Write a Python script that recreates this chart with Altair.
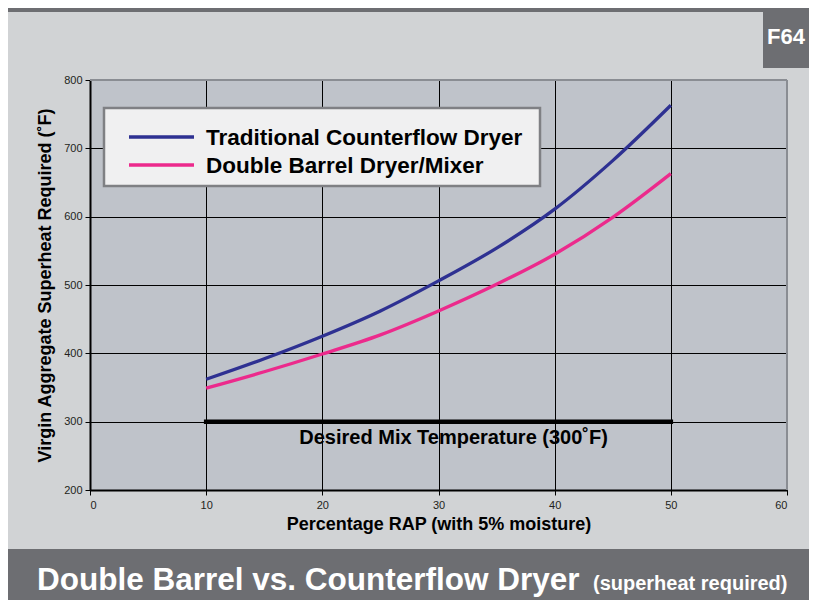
import altair as alt
import pandas as pd

# ---- data ----
rap_pct = [10, 15, 20, 25, 30, 35, 40, 45, 50]
traditional = [362, 392, 425, 462, 506, 554, 611, 682, 763]
double_barrel = [349, 373, 399, 427, 462, 501, 545, 599, 663]
series_names = ["Traditional Counterflow Dryer", "Double Barrel Dryer/Mixer"]
series_colors = ["#2e3192", "#ec2a8c"]
desired_range = [10, 50]
desired_temp = 300
desired_label = "Desired Mix Temperature (300˚F)"
desired_label_pos = [31.3, 276]
x_ticks = [0, 10, 20, 30, 40, 50, 60]
y_ticks = [200, 300, 400, 500, 600, 700, 800]
x_title = "Percentage RAP (with 5% moisture)"
y_title = "Virgin Aggregate Superheat Required (˚F)"
main_title = "Double Barrel vs. Counterflow Dryer"
sub_title = "(superheat required)"
badge = "F64"

FONT = "Liberation Sans"
DARK = "#6d6e72"
LIGHT = "#d1d3d5"
PLOT_BG = "#bfc3ca"
W, H = 697, 410

rows = []
for name, vals in zip(series_names, [traditional, double_barrel]):
    for xv, yv in zip(rap_pct, vals):
        rows.append({"x": xv, "y": yv, "series": name})
df = pd.DataFrame(rows)

x_enc = alt.X("x:Q", scale=alt.Scale(domain=[0, 60], nice=False, zero=False),
              axis=alt.Axis(values=x_ticks, title=x_title, labelPadding=4,
                            titlePadding=5, format="d"))
y_enc = alt.Y("y:Q", scale=alt.Scale(domain=[200, 800], nice=False, zero=False),
              axis=alt.Axis(values=y_ticks, title=y_title, labelPadding=3,
                            titlePadding=9, format="d"))

one = pd.DataFrame({"k": [0]})

def rect(x, x2, y, y2, fill, stroke=None, sw=0):
    kw = dict(fill=fill)
    if stroke:
        kw.update(stroke=stroke, strokeWidth=sw)
    return alt.Chart(one).mark_rect(**kw).encode(
        x=alt.value(x), x2=alt.value(x2), y=alt.value(y), y2=alt.value(y2))

def label(text, x, y, size, color="black", align="left", baseline="alphabetic", weight="bold"):
    return alt.Chart(one).mark_text(text=text, font=FONT, fontSize=size, fontWeight=weight,
                                    color=color, align=align, baseline=baseline).encode(
        x=alt.value(x), y=alt.value(y))

# frame decoration
top_strip = rect(-100, 740, -90, -68, DARK)
bottom_band = rect(-100, 740, 469, 560, DARK)
badge_box = rect(673, 740, -68, -12, DARK)
badge_text = label(badge, 696, -36, 22, color="white", align="center")
title_main = label(main_title, -53, 510, 31.5, color="white")
title_sub = label(sub_title, 503, 510, 20, color="white")

# plot border (top/right gray)
border_top = alt.Chart(one).mark_rule(color="#8a8d93", strokeWidth=2).encode(
    x=alt.value(0), x2=alt.value(W), y=alt.value(0))
border_right = alt.Chart(one).mark_rule(color="#8a8d93", strokeWidth=2).encode(
    x=alt.value(W), y=alt.value(0), y2=alt.value(H))

# desired temperature line + text
desired_df = pd.DataFrame({"x": [desired_range[0]], "x2": [desired_range[1]], "y": [desired_temp]})
desired_rule = alt.Chart(desired_df).mark_rule(color="black", strokeWidth=4.5, strokeCap="square").encode(
    x=x_enc, x2="x2:Q", y=y_enc)
desired_df_t = pd.DataFrame({"x": [desired_label_pos[0]], "y": [desired_label_pos[1]], "t": [desired_label]})
desired_text = alt.Chart(desired_df_t).mark_text(font=FONT, fontSize=20, fontWeight="bold",
                                                 color="black", baseline="middle").encode(
    x=x_enc, y=y_enc, text="t:N")

# data lines
lines = alt.Chart(df).mark_line(strokeWidth=3.3, interpolate="monotone").encode(
    x=x_enc, y=y_enc,
    color=alt.Color("series:N", scale=alt.Scale(domain=series_names, range=series_colors), legend=None))

# manual legend
leg_box = rect(14, 450, 28, 106, "#f0f0f1", stroke="#7f8084", sw=2.5)
leg_items = []
for i, (name, col) in enumerate(zip(series_names, series_colors)):
    yy = 57 + 28 * i
    leg_items.append(alt.Chart(one).mark_rule(color=col, strokeWidth=3.5).encode(
        x=alt.value(39), x2=alt.value(104), y=alt.value(yy)))
    leg_items.append(label(name, 116, yy + 1, 22.5, baseline="middle"))

chart = alt.layer(
    top_strip, bottom_band, badge_box, badge_text, title_main, title_sub,
    desired_rule, lines, border_top, border_right, desired_text,
    leg_box, *leg_items,
).properties(
    width=W, height=H,
    padding={"left": 82, "top": 72, "right": 22, "bottom": 110},
    autosize=alt.AutoSizeParams(type="none"),
    background=LIGHT,
).configure_view(
    fill=PLOT_BG, stroke=None
).configure_axis(
    labelFont=FONT, labelFontSize=11, labelColor="#231f20",
    titleFont=FONT, titleFontSize=18, titleFontWeight="bold", titleColor="black",
    domainColor="black", domainWidth=2, tickColor="black", tickWidth=1, tickSize=5,
    gridColor="black", gridWidth=1, gridOpacity=1, grid=True,
)

chart.save("out.html", embed_options={"renderer": "svg", "actions": False})
